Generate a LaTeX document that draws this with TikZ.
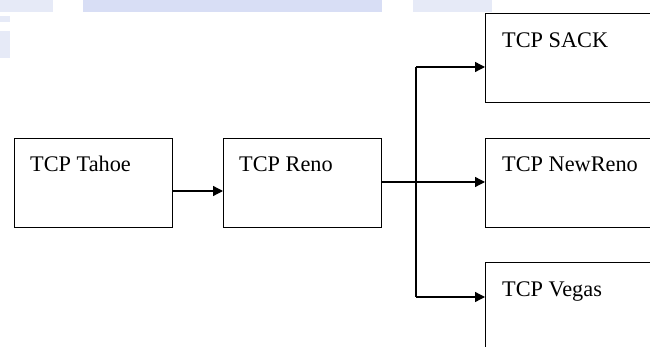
\documentclass[tikz,border=0pt]{standalone}
\usepackage{fontspec}
\setmainfont{Liberation Serif}
\usetikzlibrary{arrows.meta}
\definecolor{wm}{RGB}{216,222,245}
\definecolor{wmlight}{RGB}{230,234,247}
\tikzset{
  box/.style={draw=black, line width=1.3pt, fill=white, rectangle, anchor=north west, inner sep=0pt},
  lbl/.style={anchor=base west, inner sep=0pt, font=\fontsize{22.3}{26}\selectfont},
  conn/.style={draw=black, line width=1.3pt},
  arr/.style={conn, -{Triangle[length=10pt,width=10pt]}},
}
\begin{document}
\begin{tikzpicture}[x=1pt,y=-1pt]
\useasboundingbox (0,0) rectangle (650,347);
\clip (0,0) rectangle (650,347);
\fill[white] (0,0) rectangle (650,347);
% faint watermark bars
\fill[wmlight] (0,0) rectangle (53,12);
\fill[wm] (83,0) rectangle (382,12);
\fill[wmlight] (413,0) rectangle (492,12);
\fill[wmlight] (0,16) rectangle (10,22);
\fill[wmlight] (0,31) rectangle (10,58);
% boxes
\node[box, minimum width=158pt, minimum height=89pt] (tahoe) at (14,138) {};
\node[box, minimum width=158pt, minimum height=89pt] (reno) at (223,138) {};
\node[box, minimum width=200pt, minimum height=89pt] (sack) at (485,13) {};
\node[box, minimum width=200pt, minimum height=89pt] (newreno) at (485,138) {};
\node[box, minimum width=200pt, minimum height=120pt] (vegas) at (485,262) {};
% labels
\node[lbl] (tahoeL) at (30,172) {TCP Tahoe};
\node[lbl] (renoL) at (239,172) {TCP Reno};
\node[lbl] (sackL) at (502,48) {TCP SACK};
\node[lbl] (newrenoL) at (502,172) {TCP NewReno};
\node[lbl] (vegasL) at (502,296) {TCP Vegas};
% connectors
\coordinate (fork) at (416,182);
\coordinate (top) at (416,67);
\coordinate (bot) at (416,297);
\draw[arr] (tahoe.east |- 0,191) -- (reno.west |- 0,191);
\draw[arr] (reno.east |- 0,182) -- (newreno.west |- 0,182);
\draw[conn] (top) -- (bot);
\draw[arr] (top) -- (sack.west |- top);
\draw[arr] (bot) -- (vegas.west |- bot);
\end{tikzpicture}
\end{document}
